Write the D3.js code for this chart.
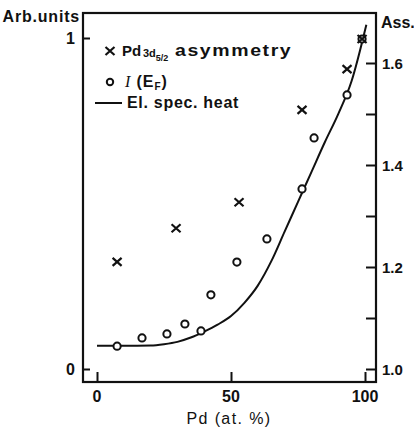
<!DOCTYPE html>
<html>
<head>
<meta charset="utf-8">
<script src="https://cdn.jsdelivr.net/npm/d3@7/dist/d3.min.js"></script>
<style>
  body { margin: 0; background: #fff; }
  svg text { font-family: "Liberation Sans", Arial, sans-serif; fill: #111; }
</style>
</head>
<body>
<svg id="chart" width="414" height="431"></svg>
<script>
// Pd 3d5/2 asymmetry (right axis, "Ass.")
const pdAsym = [7.5, 29.5, 53, 76.5, 93.3, 98.9];
const asymVals = [1.21, 1.276, 1.327, 1.508, 1.588, 1.647];

// I(E_F) (left axis, arb. units)
const pdInt = [7.5, 16.8, 26.1, 32.8, 38.8, 42.5, 52.2, 63.4, 76.5, 81, 93.3, 98.9];
const intVals = [0.069, 0.094, 0.106, 0.136, 0.115, 0.224, 0.323, 0.393, 0.544, 0.698, 0.828, 0.997];

// electronic specific heat curve (left axis)
const pdHeat = [0, 10, 20, 25, 30, 35, 40, 45, 50, 55, 60, 65, 70, 75, 80, 85, 90, 95, 100.5];
const heatVals = [0.07, 0.07, 0.071, 0.075, 0.082, 0.095, 0.113, 0.134, 0.16, 0.2, 0.252, 0.325, 0.415, 0.505, 0.595, 0.685, 0.77, 0.87, 1.04];

const xTicks = [0, 50, 100];
const leftTicks = [0, 1];
const rightMajor = [1.0, 1.2, 1.4, 1.6];
const rightMinor = [1.1, 1.3, 1.5];

const svg = d3.select("#chart");
const frame = {left: 83, right: 376, top: 13, bottom: 382};

const x = d3.scaleLinear().domain([0, 100]).range([97, 365]);
const yL = d3.scaleLinear().domain([0, 1]).range([369, 38]);
const yR = d3.scaleLinear().domain([1.0, 1.6]).range([369, 63]);

// box
svg.append("rect")
    .attr("x", frame.left).attr("y", frame.top)
    .attr("width", frame.right - frame.left)
    .attr("height", frame.bottom - frame.top)
    .attr("fill", "none").attr("stroke", "#111").attr("stroke-width", 2.2);

// inward ticks, drawn with the axis generators then shifted onto the frame
let gx = svg.append("g").attr("transform", `translate(0,${frame.bottom})`)
    .call(d3.axisTop(x).tickValues(xTicks).tickSize(10).tickFormat(""));
let gl = svg.append("g").attr("transform", `translate(${frame.left},0)`)
    .call(d3.axisRight(yL).tickValues(leftTicks).tickSize(7).tickFormat(""));
let gr = svg.append("g").attr("transform", `translate(${frame.right},0)`)
    .call(d3.axisLeft(yR).tickValues(rightMajor.concat(rightMinor)).tickSize(10).tickFormat(""));
[gx, gl, gr].forEach(function (g) {
    g.select(".domain").remove();
    g.selectAll("line").attr("stroke", "#111").attr("stroke-width", 2);
});

// tick labels
svg.selectAll(".xlab").data(xTicks).enter().append("text")
    .attr("x", d => x(d)).attr("y", 402)
    .attr("text-anchor", "middle").attr("font-size", 16).attr("font-weight", "bold")
    .text(d => d);
svg.selectAll(".llab").data(leftTicks).enter().append("text")
    .attr("x", 75).attr("y", d => yL(d) + 5.5)
    .attr("text-anchor", "end").attr("font-size", 16).attr("font-weight", "bold")
    .text(d => d);
svg.selectAll(".rlab").data(rightMajor).enter().append("text")
    .attr("x", 382).attr("y", d => yR(d) + 5.5)
    .attr("font-size", 15).attr("font-weight", "bold")
    .text(d => d.toFixed(1));

// axis titles
svg.append("text").attr("x", 80).attr("y", 22).attr("text-anchor", "end")
    .attr("font-size", 16).attr("font-weight", "bold").attr("letter-spacing", 0.8)
    .text("Arb.units");
svg.append("text").attr("x", 381).attr("y", 28)
    .attr("font-size", 16).attr("font-weight", "bold")
    .text("Ass.");
svg.append("text").attr("x", 229).attr("y", 424).attr("text-anchor", "middle")
    .attr("font-size", 16).attr("letter-spacing", 1.4)
    .text("Pd  (at. %)");

// specific heat line
let line = d3.line()
    .x((d, i) => x(pdHeat[i]))
    .y(d => yL(d))
    .curve(d3.curveMonotoneX);
svg.append("path").datum(heatVals)
    .attr("d", line)
    .attr("fill", "none").attr("stroke", "#111").attr("stroke-width", 2);

// I(E_F) circles
svg.selectAll(".circ").data(intVals).enter().append("circle")
    .attr("cx", (d, i) => x(pdInt[i])).attr("cy", d => yL(d))
    .attr("r", 3.6)
    .attr("fill", "#fff").attr("stroke", "#111").attr("stroke-width", 2);

// asymmetry crosses
svg.selectAll(".cross").data(asymVals).enter().append("path")
    .attr("transform", (d, i) => `translate(${x(pdAsym[i])},${yR(d)})`)
    .attr("d", "M-4.5,-4 L4.5,4 M-4.5,4 L4.5,-4")
    .attr("stroke", "#111").attr("stroke-width", 2.2).attr("fill", "none");

// legend
let leg = svg.append("g").attr("font-weight", "bold");
leg.append("path").attr("transform", "translate(110,51)")
    .attr("d", "M-4.5,-4 L4.5,4 M-4.5,4 L4.5,-4")
    .attr("stroke", "#111").attr("stroke-width", 2.2);
leg.append("text").attr("x", 122).attr("y", 56).attr("font-size", 15).text("Pd");
let t1 = leg.append("text").attr("x", 143).attr("y", 57).attr("font-size", 11);
t1.append("tspan").text("3d");
t1.append("tspan").attr("font-size", 9).attr("dy", 4).text("5/2");
// the original word is set in a wide face, so stretch it a bit
leg.append("text").attr("transform", "translate(175,56) scale(1.22,1)")
    .attr("font-size", 16).attr("letter-spacing", 1.3)
    .text("asymmetry");

leg.append("circle").attr("cx", 110).attr("cy", 82).attr("r", 3.2)
    .attr("fill", "#fff").attr("stroke", "#111").attr("stroke-width", 2);
let t2 = leg.append("text").attr("x", 125).attr("y", 87).attr("font-size", 16)
    .attr("letter-spacing", 0.9);
t2.append("tspan").attr("font-family", "Liberation Serif, serif").attr("font-style", "italic")
    .attr("font-weight", "normal").text("I");
t2.append("tspan").text("  (E");
t2.append("tspan").attr("font-size", 10).attr("dy", 3).text("F");
t2.append("tspan").attr("dy", -3).text(")");

leg.append("line").attr("x1", 95).attr("x2", 122).attr("y1", 103).attr("y2", 103)
    .attr("stroke", "#111").attr("stroke-width", 2);
leg.append("text").attr("x", 127).attr("y", 108).attr("font-size", 16)
    .attr("letter-spacing", 0.7)
    .text("El. spec. heat");
</script>
</body>
</html>
